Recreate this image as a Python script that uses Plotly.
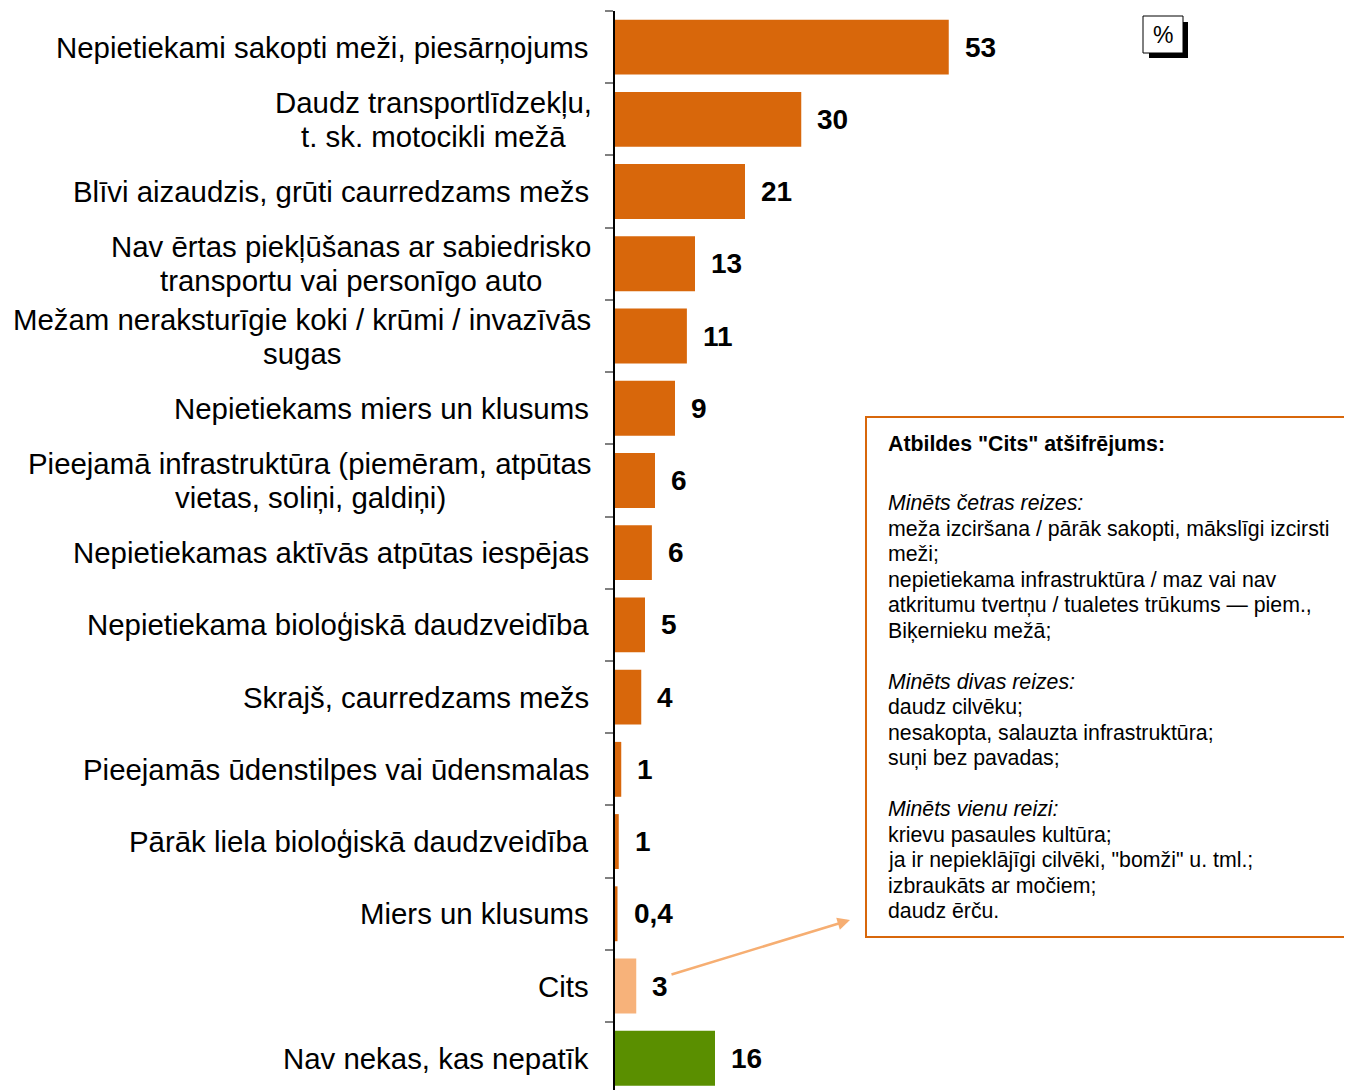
import plotly.graph_objects as go

# ── Data ──────────────────────────────────────────────────────────────────────
categories = [
    "Nepietiekami sakopti meži, piesārņojums",
    "Daudz transportlīdzekļu,<br>t. sk. motocikli mežā",
    "Blīvi aizaudzis, grūti caurredzams mežs",
    "Nav ērtas piekļūšanas ar sabiedrisko<br>transportu vai personīgo auto",
    "Mežam neraksturīgie koki / krūmi / invazīvās<br>sugas",
    "Nepietiekams miers un klusums",
    "Pieejamā infrastruktūra (piemēram, atpūtas<br>vietas, soliņi, galdiņi)",
    "Nepietiekamas aktīvās atpūtas iespējas",
    "Nepietiekama bioloģiskā daudzveidība",
    "Skrajš, caurredzams mežs",
    "Pieejamās ūdenstilpes vai ūdensmalas",
    "Pārāk liela bioloģiskā daudzveidība",
    "Miers un klusums",
    "Cits",
    "Nav nekas, kas nepatīk",
]
values = [53.4, 29.8, 20.8, 12.8, 11.5, 9.6, 6.4, 5.9, 4.8, 4.2, 1.0, 0.6, 0.4, 3.4, 16.0]
value_labels = ["53", "30", "21", "13", "11", "9", "6", "6", "5", "4", "1", "1", "0,4", "3", "16"]

box_title = "Atbildes \"Cits\" atšifrējums:"
box_lines = [
    "<i>Minēts četras reizes:</i>",
    "meža izciršana / pārāk sakopti, mākslīgi izcirsti",
    "meži;",
    "nepietiekama infrastruktūra / maz vai nav",
    "atkritumu tvertņu / tualetes trūkums — piem.,",
    "Biķernieku mežā;",
    "",
    "<i>Minēts divas reizes:</i>",
    "daudz cilvēku;",
    "nesakopta, salauzta infrastruktūra;",
    "suņi bez pavadas;",
    "",
    "<i>Minēts vienu reizi:</i>",
    "krievu pasaules kultūra;",
    "ja ir nepieklājīgi cilvēki, \"bomži\" u. tml.;",
    "izbraukāts ar močiem;",
    "daudz ērču.",
]

# ── Colours / fonts ───────────────────────────────────────────────────────────
ORANGE = "#D8670B"
LIGHT_ORANGE = "#F7B27A"
GREEN = "#5A8F00"
ARROW = "#F6AE72"
FONT = "Liberation Sans, Arial, sans-serif"

bar_colors = [ORANGE] * 13 + [LIGHT_ORANGE, GREEN]

# page has an 8px body margin, so work in page pixels and subtract it
OFF = 8
W, H = 1352 - OFF, 1090 - OFF
ML, MT = 615 - OFF, 11 - OFF
LABEL_RIGHT = 591          # right edge of category labels (page px)
LINE_STEP = 34             # line spacing of two-line category labels
# horizontal centre of the two-line labels (page px)
label_centres = {1: 433, 3: 351, 4: 302, 6: 310}


def px_x(px):
    return (px - OFF - ML) / (W - ML)


def px_y(py):
    return (H - (py - OFF)) / (H - MT)


fig = go.Figure(go.Bar(
    x=values,
    y=categories,
    orientation="h",
    marker=dict(color=bar_colors, line=dict(width=0)),
    hoverinfo="skip",
))

# category labels
for i, cat in enumerate(categories):
    lines = cat.split("<br>")
    n = len(lines)
    for j, line in enumerate(lines):
        if n == 1:
            xa, xs = "right", LABEL_RIGHT - 615
        else:
            xa, xs = "center", label_centres[i] - 615
        fig.add_annotation(
            x=0, xref="paper", y=cat, yref="y",
            text=line, showarrow=False,
            xanchor=xa, xshift=xs, yanchor="middle",
            yshift=(n - 1) / 2 * LINE_STEP - j * LINE_STEP,
            font=dict(family=FONT, size=29.4, color="#000000"),
        )

# value labels
for cat, v, lab in zip(categories, values, value_labels):
    fig.add_annotation(
        x=v, y=cat, text=f"<b>{lab}</b>", showarrow=False,
        xanchor="left", xshift=14,
        font=dict(family=FONT, size=28, color="#000000"),
    )

# "Cits" explanation box
fig.add_shape(
    type="rect", xref="paper", yref="paper",
    x0=px_x(866), x1=px_x(1380), y0=px_y(937), y1=px_y(417),
    line=dict(color=ORANGE, width=2), fillcolor="white", layer="above",
)
fig.add_annotation(
    x=px_x(886), y=px_y(444), xref="paper", yref="paper",
    text=f"<b>{box_title}</b>", showarrow=False,
    xanchor="left", yanchor="middle", align="left",
    font=dict(family=FONT, size=21.3, color="#000000"),
)
for k, line in enumerate(box_lines):
    if not line:
        continue
    fig.add_annotation(
        x=px_x(886), y=px_y(503 + k * 25.5), xref="paper", yref="paper",
        text=line, showarrow=False,
        xanchor="left", yanchor="middle", align="left",
        font=dict(family=FONT, size=21.3, color="#000000"),
    )

# arrow from the "Cits" label to the box
fig.add_annotation(
    x=px_x(850), y=px_y(920), xref="paper", yref="paper",
    ax=-180, ay=55, text="", showarrow=True,
    arrowhead=2, arrowsize=1, arrowwidth=2.5, arrowcolor=ARROW,
)

# "%" badge with shadow
fig.add_shape(
    type="rect", xref="paper", yref="paper",
    x0=px_x(1149), x1=px_x(1188), y0=px_y(58), y1=px_y(22),
    line=dict(width=0), fillcolor="#000000",
)
fig.add_shape(
    type="rect", xref="paper", yref="paper",
    x0=px_x(1143), x1=px_x(1183), y0=px_y(53), y1=px_y(16),
    line=dict(color="#000000", width=1), fillcolor="white",
)
fig.add_annotation(
    x=px_x(1163), y=px_y(35), xref="paper", yref="paper",
    text="%", showarrow=False, xanchor="center", yanchor="middle",
    font=dict(family=FONT, size=23, color="#000000"),
)

fig.update_layout(
    width=W, height=H,
    margin=dict(l=ML, r=0, t=MT, b=0),
    paper_bgcolor="white",
    plot_bgcolor="white",
    font=dict(family=FONT, color="#000000"),
    bargap=0.24,
    showlegend=False,
    xaxis=dict(
        range=[0, (W - ML) / 6.25], visible=False,
        showgrid=False, zeroline=False,
    ),
    yaxis=dict(
        range=[len(categories) - 0.56, -0.5],
        showticklabels=False,
        showgrid=False, zeroline=False,
        showline=True, linecolor="#000000", linewidth=1.5,
        ticks="outside", tickson="boundaries",
        ticklen=8, tickwidth=2, tickcolor="#808080",
    ),
)

fig.write_html("out.html")
